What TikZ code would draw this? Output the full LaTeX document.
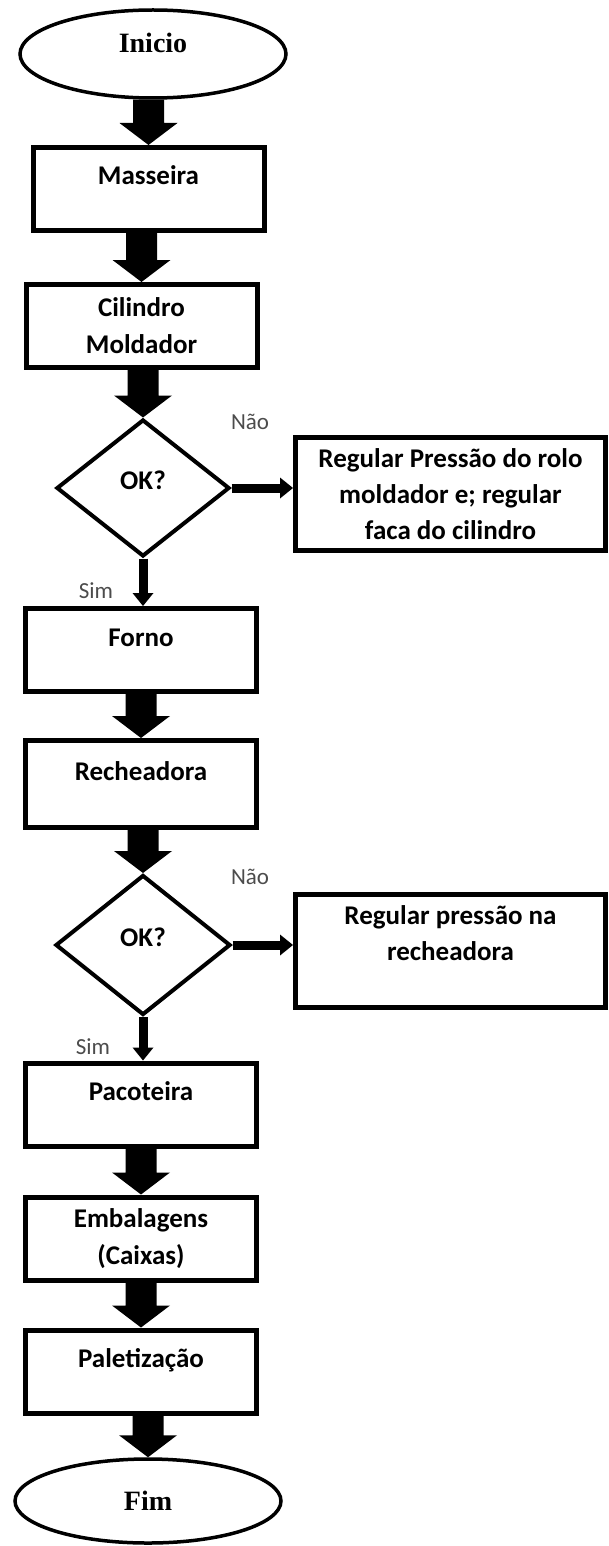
\documentclass[tikz,border=0pt]{standalone}
\usepackage{fontspec}
\setmainfont{Carlito}
\newfontfamily\serifface{Liberation Serif}
\usetikzlibrary{shapes.geometric,arrows.meta,calc}
\begin{document}
\begin{tikzpicture}[x=1pt,y=-1pt,
  boxbase/.style={draw, line width=5pt, rectangle, minimum width=231pt, minimum height=83pt, inner sep=0pt, font=\bfseries\fontsize{27}{37}\selectfont},
  onebox/.style={boxbase, text height=18pt, text depth=26pt},
  twobox/.style={boxbase, align=center},
  sidebox/.style={draw, line width=5pt, rectangle, minimum width=310pt, minimum height=113pt, inner sep=0pt, align=center, font=\bfseries\fontsize{27}{36}\selectfont},
  decision/.style={draw, line width=4pt, diamond, inner sep=0pt, text height=18pt, text depth=15pt, font=\bfseries\fontsize{27}{34}\selectfont},
  terminal/.style={draw, line width=3.5pt, ellipse, inner sep=0pt, minimum width=266pt, font=\serifface\bfseries\fontsize{28}{34}\selectfont},
  small/.style={text=black!70, inner sep=0pt, font=\fontsize{23}{28}\selectfont},
  blockarrow/.style={fill=black, to path={let \p1=(\tikztostart), \p2=(\tikztotarget) in
     (\x2-15.5pt,\y1) -- (\x2+15.5pt,\y1) -- (\x2+15.5pt,\y2+22pt) -- (\x2+29pt,\y2+22pt)
     -- (\x2,\y2) -- (\x2-29pt,\y2+22pt) -- (\x2-15.5pt,\y2+22pt) -- cycle}},
  thinarrow/.style={line width=9pt, -{Triangle[width=21pt,length=13pt,line width=0pt]}}
]
\useasboundingbox (0,0) rectangle (609,1546);

% terminals
\node[terminal, minimum height=88pt, text height=19pt, text depth=22pt] (ini) at (153,54) {Inicio};
\node[terminal, minimum height=84pt] (fim) at (148,1501) {Fim};

% process boxes
\node[onebox] (mass) at (148.5,189) {Masseira};
\node[twobox] (cil) at (141.5,326) {Cilindro\\Moldador};
\node[decision, minimum width=173pt, minimum height=137pt] (d1) at (143,488) {OK?};
\node[sidebox] (sb1) at (450.5,494) {Regular Pressão do rolo\\moldador e; regular\\faca do cilindro};
\node[onebox] (forno) at (141,650) {Forno};
\node[onebox, minimum height=87pt] (rech) at (141,784) {Recheadora};
\node[decision, minimum width=175pt, minimum height=140pt] (d2) at (143,945) {OK?};
\node[sidebox] (sb2) at (450.5,951) {Regular pressão na\\recheadora\\\mbox{}};
\node[onebox] (pac) at (141,1104.5) {Pacoteira};
\node[twobox] (emb) at (141,1238.5) {Embalagens\\(Caixas)};
\node[onebox] (pal) at (141,1371.5) {Paletização};

% labels
\node[small] (nao1) at (250,422) {Não};
\node[small] (sim1) at (96,591) {Sim};
\node[small] (nao2) at (250,877) {Não};
\node[small] (sim2) at (93,1047) {Sim};

% block arrows
\path[blockarrow] (ini.south) to (mass.north);
\path[blockarrow] (mass.south) to (cil.north);
\path[blockarrow] (cil.south) to (d1.north);
\path[blockarrow] (forno.south) to (rech.north);
\path[blockarrow] (rech.south) to (d2.north);
\path[blockarrow] (pac.south) to (emb.north);
\path[blockarrow] (emb.south) to (pal.north);
\path[blockarrow] (pal.south) to (fim.north);

% decision arrows
\draw[thinarrow] (d1.east) -- (d1.east -| sb1.west);
\draw[thinarrow] (d1.south) -- (d1.south |- forno.north);
\draw[thinarrow] (d2.east) -- (d2.east -| sb2.west);
\draw[thinarrow] (d2.south) -- (d2.south |- pac.north);
\end{tikzpicture}
\end{document}
